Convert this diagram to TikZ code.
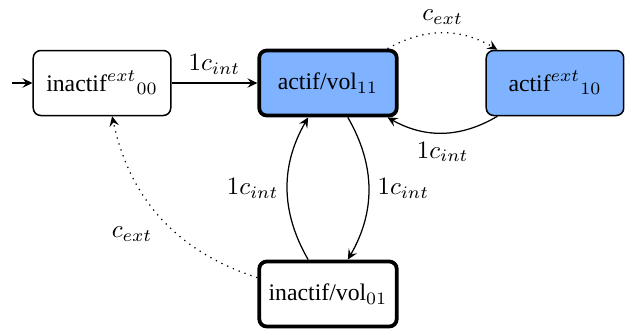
\documentclass[tikz,border=0pt]{standalone}
\usepackage[no-math]{fontspec}
\setmainfont{Liberation Serif}
\usetikzlibrary{arrows.meta}
\definecolor{stateblue}{RGB}{128,179,255}
\begin{document}
\begin{tikzpicture}
[x=0.4pt,y=-0.4pt,auto,
every node/.style={inner sep=3.33pt},
state/.style={draw,semithick,rounded corners=3pt,minimum width=55pt,minimum height=26pt,font=\fontsize{9.5}{11}\selectfont},
current/.style={line width=1.5pt},
actif/.style={fill=stateblue},
every edge/.style={draw,line width=0.5pt,-{Stealth[length=4pt,width=3.8pt,inset=1.5pt]}}]
\useasboundingbox (0,0) rectangle (629,329);
\node[state] (inactif00) at (102,83) {inactif$^{ext}{}_{00}$};
\node[state,current,actif] (actif11) at (328,83) {actif/vol$_{11}$};
\node[state,actif] (actif10) at (555,83) {actif$^{ext}{}_{10}$};
\node[state,current] (inactif01) at (328,294) {inactif/vol$_{01}$};
\coordinate (start) at (12,83);
\path (start) edge (inactif00)
(inactif00) edge node {$1c_{int}$} (actif11)
(actif11) edge[bend left,dotted] node {$c_{ext}$} (actif10)
(actif10) edge[bend left] node {$1c_{int}$} (actif11)
(actif11) edge[bend left] node {$1c_{int}$} (inactif01)
(inactif01) edge[bend left] node {$1c_{int}$} (actif11)
(inactif01) edge[bend left,dotted] node {$c_{ext}$} (inactif00);
\end{tikzpicture}
\end{document}
